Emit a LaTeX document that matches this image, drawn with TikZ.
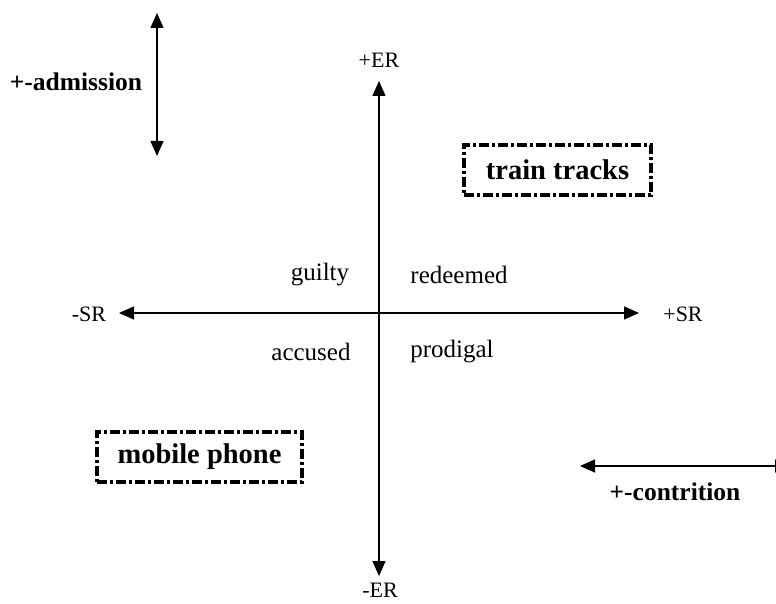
\documentclass[tikz,border=0pt]{standalone}
\usepackage{fontspec}
\setmainfont{Liberation Serif}
\usetikzlibrary{arrows.meta}
\begin{document}
\begin{tikzpicture}[x=1pt,y=-1pt,
  axislabel/.style={font=\fontsize{22}{26}\selectfont, inner sep=0pt},
  quadlabel/.style={font=\fontsize{25}{30}\selectfont, inner sep=0pt},
  dimlabel/.style={font=\fontsize{25.5}{30}\selectfont\bfseries, inner sep=0pt},
  boxlabel/.style={font=\fontsize{28.5}{34}\selectfont\bfseries, draw, line width=4pt,
    dash pattern=on 10pt off 3pt on 3pt off 3pt, minimum height=50pt, inner sep=0pt},
  twoway/.style={line width=1.4pt, {Triangle[length=15pt,width=13pt]}-{Triangle[length=15pt,width=13pt]}}
]
\useasboundingbox (0,0) rectangle (776,604);

% axes
\coordinate (ertop) at (379,81);
\coordinate (erbot) at (379,576);
\coordinate (srleft) at (119,313);
\coordinate (srright) at (639,313);
\draw[twoway] (erbot) -- (ertop);
\draw[twoway] (srleft) -- (srright);

% axis labels
\node[axislabel] (plusER) at (379,60) {+ER};
\node[axislabel] (minusER) at (380,590) {-ER};
\node[axislabel] (minusSR) at (89,314) {-SR};
\node[axislabel] (plusSR) at (683,314) {+SR};

% quadrant labels
\node[quadlabel] (guilty) at (320,275) {guilty};
\node[quadlabel] (redeemed) at (459,275) {redeemed};
\node[quadlabel] (accused) at (311,352) {accused};
\node[quadlabel] (prodigal) at (452,352) {prodigal};

% admission scale
\coordinate (admtop) at (157,13);
\coordinate (admbot) at (157,156);
\draw[twoway] (admbot) -- (admtop);
\node[dimlabel] (admission) at (76,82) {+-admission};

% contrition scale
\coordinate (conleft) at (580,466);
\coordinate (conright) at (790,466);
\draw[twoway] (conleft) -- (conright);
\node[dimlabel] (contrition) at (675,492) {+-contrition};

% example boxes
\node[boxlabel, minimum width=187pt] (train) at (557.5,170) {train tracks};
\node[boxlabel, minimum width=205pt] (phone) at (199.5,457) {mobile phone};
\end{tikzpicture}
\end{document}
